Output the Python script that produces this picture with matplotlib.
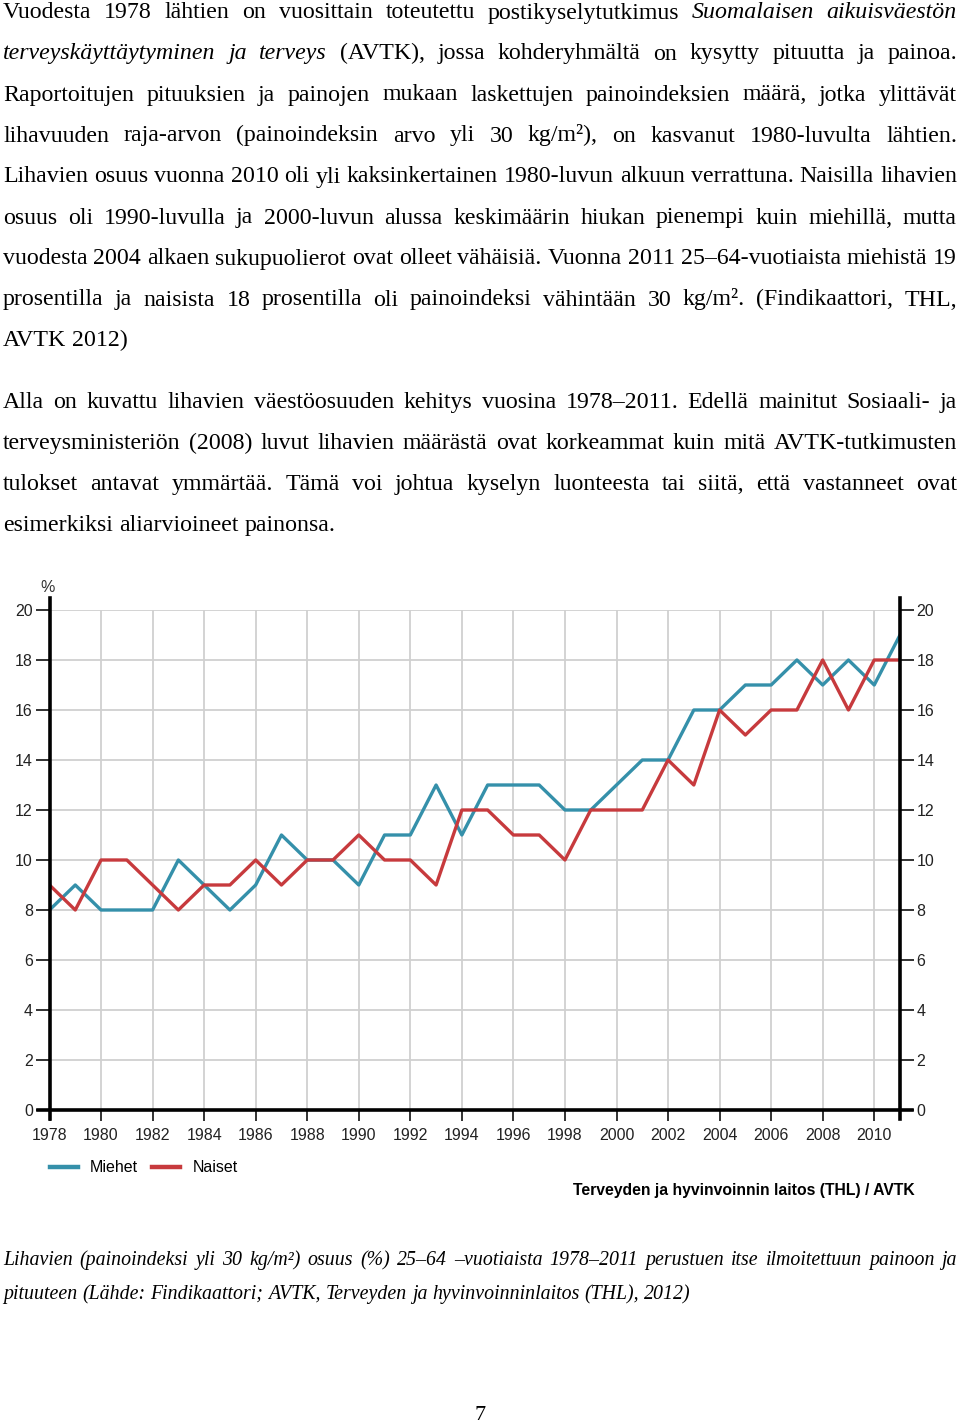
import matplotlib
matplotlib.use("Agg")
import matplotlib.pyplot as plt

W, H = 960, 1425

years = list(range(1978, 2012))
miehet = [8, 9, 8, 8, 8, 10, 9, 8, 9, 11, 10, 10, 9, 11, 11, 13, 11,
          13, 13, 13, 12, 12, 13, 14, 14, 16, 16, 17, 17, 18, 17, 18, 17, 19]
naiset = [9, 8, 10, 10, 9, 8, 9, 9, 10, 9, 10, 10, 11, 10, 10, 9, 12,
          12, 11, 11, 10, 12, 12, 12, 14, 13, 16, 15, 16, 16, 18, 16, 18, 18]
xtick_years = list(range(1978, 2011, 2))
ytick_vals = list(range(0, 21, 2))

# page text, one entry per printed line; "_" marks italic words
para1 = [
    "Vuodesta 1978 lähtien on vuosittain toteutettu postikyselytutkimus _Suomalaisen _aikuisväestön",
    "_terveyskäyttäytyminen _ja _terveys (AVTK), jossa kohderyhmältä on kysytty pituutta ja painoa.",
    "Raportoitujen pituuksien ja painojen mukaan laskettujen painoindeksien määrä, jotka ylittävät",
    "lihavuuden raja-arvon (painoindeksin arvo yli 30 kg/m²), on kasvanut 1980-luvulta lähtien.",
    "Lihavien osuus vuonna 2010 oli yli kaksinkertainen 1980-luvun alkuun verrattuna. Naisilla lihavien",
    "osuus oli 1990-luvulla ja 2000-luvun alussa keskimäärin hiukan pienempi kuin miehillä, mutta",
    "vuodesta 2004 alkaen sukupuolierot ovat olleet vähäisiä. Vuonna 2011 25–64-vuotiaista miehistä 19",
    "prosentilla ja naisista 18 prosentilla oli painoindeksi vähintään 30 kg/m². (Findikaattori, THL,",
    "AVTK 2012)",
]
para2 = [
    "Alla on kuvattu lihavien väestöosuuden kehitys vuosina 1978–2011. Edellä mainitut Sosiaali- ja",
    "terveysministeriön (2008) luvut lihavien määrästä ovat korkeammat kuin mitä AVTK-tutkimusten",
    "tulokset antavat ymmärtää. Tämä voi johtua kyselyn luonteesta tai siitä, että vastanneet ovat",
    "esimerkiksi aliarvioineet painonsa.",
]
caption = [
    "Lihavien (painoindeksi yli 30 kg/m²) osuus (%) 25–64 –vuotiaista 1978–2011 perustuen itse ilmoitettuun painoon ja",
    "pituuteen (Lähde: Findikaattori; AVTK, Terveyden ja hyvinvoinninlaitos (THL), 2012)",
]

fig = plt.figure(figsize=(W / 100, H / 100), dpi=100)
renderer = fig.canvas.get_renderer()

serif = ["Liberation Serif", "DejaVu Serif"]
narrow = ["Liberation Sans Narrow", "Liberation Sans", "DejaVu Sans"]


def place_line(line, y, size, justify, italic_all=False, x0=3, x1=957):
    objs = []
    for w in line.split(" "):
        style = "italic" if italic_all else "normal"
        if w.startswith("_"):
            w = w[1:]
            style = "italic"
        t = fig.text(0, 0, w, fontsize=size, family=serif, style=style,
                     va="baseline", ha="left")
        objs.append(t)
    widths = [t.get_window_extent(renderer).width for t in objs]
    if justify and len(objs) > 1:
        gap = (x1 - x0 - sum(widths)) / (len(objs) - 1)
    else:
        gap = size * 100 / 72 * 0.25
    x = x0
    for t, wd in zip(objs, widths):
        t.set_position((x / W, 1 - y / H))
        x += wd + gap


for i, line in enumerate(para1):
    place_line(line, 18.5 + 41 * i, 17.2, i < len(para1) - 1)
for i, line in enumerate(para2):
    place_line(line, 408 + 41 * i, 17.2, i < len(para2) - 1)
for i, line in enumerate(caption):
    place_line(line, 1265 + 34 * i, 14.3, i < len(caption) - 1, italic_all=True)

fig.text(480 / W, 1 - 1415 / H, "7", fontsize=16, family=serif,
         ha="center", va="center")

# chart
ax = fig.add_axes([49.5 / W, 1 - 1110 / H, (900 - 49.5) / W, 500 / H])
ax.plot(years, miehet, color="#3590aa", lw=2.4, label="Miehet")
ax.plot(years, naiset, color="#c73a3d", lw=2.4, label="Naiset")

ax.set_xlim(1978, 2011)
ax.set_ylim(0, 20)
ax.set_xticks(xtick_years)
ax.set_yticks(ytick_vals)
ax.grid(color="#d0d0d0", lw=1.3)
ax.set_axisbelow(True)

for side in ["left", "right"]:
    ax.spines[side].set_linewidth(2.6)
    ax.spines[side].set_color("black")
    ax.spines[side].set_bounds(-0.35, 20.5)
ax.spines["bottom"].set_linewidth(2.6)
ax.spines["bottom"].set_bounds(1977.55, 2011.45)
ax.spines["top"].set_visible(False)

ax.tick_params(axis="y", left=True, right=True, labelleft=True, labelright=True,
               direction="out", length=10, width=1.3, pad=2, labelsize=11.5,
               colors="#222222")
ax.tick_params(axis="x", direction="out", length=8, width=1.3, pad=5,
               labelsize=11.5, colors="#222222")
for lab in ax.xaxis.get_ticklabels(which="both") + ax.yaxis.get_ticklabels(which="both"):
    lab.set_family(narrow)
for t in ax.yaxis.get_major_ticks():
    t.label2.set_family(narrow)

fig.text(48 / W, 1 - 587 / H, "%", fontsize=11.5, family=narrow,
         color="#333333", ha="center", va="center")

leg = ax.legend(loc="center left", bbox_to_anchor=(50 / W, 1 - 1168 / H),
                bbox_transform=fig.transFigure, ncol=2, frameon=False,
                borderpad=0, borderaxespad=0,
                handlelength=1.75, handletextpad=0.75, columnspacing=0.9,
                prop={"family": narrow, "size": 11.5})
for h in leg.get_lines():
    h.set_linewidth(3.2)

fig.text(915 / W, 1 - 1190 / H, "Terveyden ja hyvinvoinnin laitos (THL) / AVTK",
         fontsize=11.3, family=narrow, weight="bold", ha="right", va="center")

fig.savefig("out.png", dpi=100)
